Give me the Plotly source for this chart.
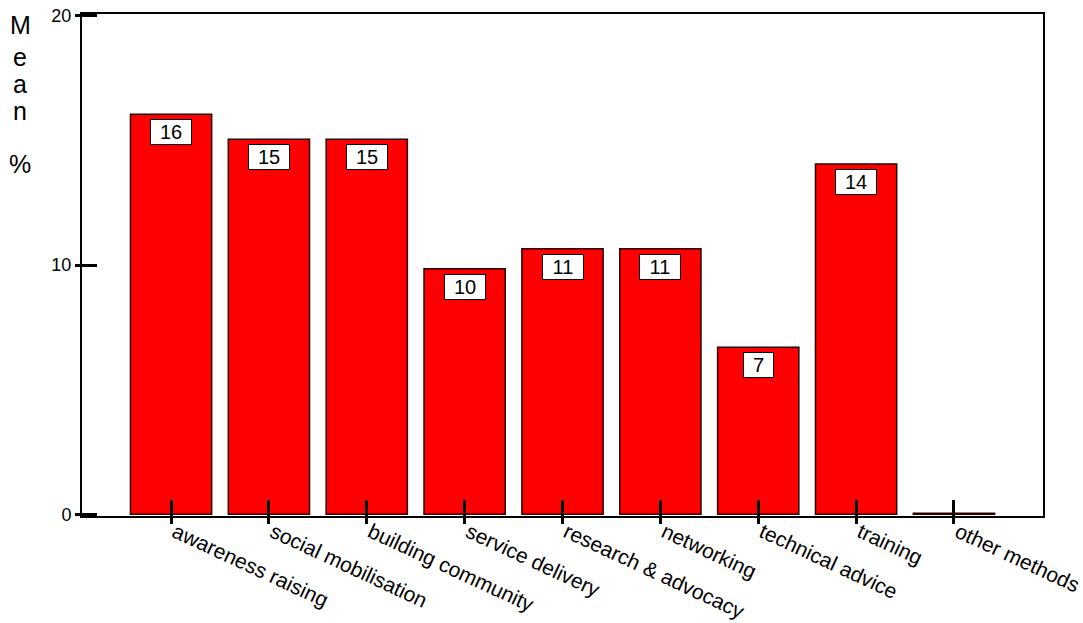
import plotly.graph_objects as go

categories = ["awareness raising", "social mobilisation", "building community",
              "service delivery", "research & advocacy", "networking",
              "technical advice", "training", "other methods"]
means = [16.05, 15.05, 15.05, 9.85, 10.65, 10.65, 6.7, 14.05, 0.04]
y_ticks = [0, 10, 20]
y_title_letters = ["M", "e", "a", "n", "%"]
y_title_pos = [0.978, 0.915, 0.860, 0.806, 0.701]

idx = list(range(len(categories)))
FONT = "Arial, Liberation Sans, sans-serif"

fig = go.Figure()
fig.add_trace(go.Bar(
    x=idx, y=means,
    marker=dict(color="#FF0000", line=dict(color="#2a0000", width=1.5)),
    width=0.83, hoverinfo="skip", xaxis="x", yaxis="y",
))
# invisible trace so the overlay axes are drawn
fig.add_trace(go.Scatter(x=idx, y=means, mode="markers", marker=dict(opacity=0),
                         hoverinfo="skip", xaxis="x2", yaxis="y2", showlegend=False))

xr = [-0.91, 8.91]
yr = [-0.07, 20.07]

for i, v in zip(idx, means):
    if v >= 0.5:
        lab = str(int(round(v)))
        fig.add_annotation(x=i, y=v, xref="x", yref="y", text=lab,
                           showarrow=False, yanchor="top", yshift=-5,
                           width=18 + 11 * len(lab), height=24,
                           bgcolor="white", bordercolor="black", borderwidth=1,
                           borderpad=0, font=dict(family=FONT, size=20, color="black"))

for letter, yp in zip(y_title_letters, y_title_pos):
    fig.add_annotation(x=-0.064, y=yp, xref="paper", yref="paper", text=letter,
                       showarrow=False, xanchor="center", yanchor="middle",
                       font=dict(family=FONT, size=25, color="black"))

fig.update_layout(
    width=1083, height=623, autosize=False,
    margin=dict(l=82, r=40, t=14, b=107, pad=0, autoexpand=False),
    paper_bgcolor="white", plot_bgcolor="white",
    showlegend=False,
    xaxis=dict(range=xr, tickvals=idx, showticklabels=False, automargin=False,
               ticks="inside", ticklen=16, tickwidth=3, tickcolor="black",
               showline=True, linecolor="black", linewidth=1.5, mirror=True,
               showgrid=False, zeroline=False),
    yaxis=dict(range=yr, tickvals=y_ticks, showticklabels=False, automargin=False,
               ticks="inside", ticklen=15, tickwidth=3, tickcolor="black",
               showline=True, linecolor="black", linewidth=1.5, mirror=True,
               showgrid=False, zeroline=False),
    xaxis2=dict(range=xr, overlaying="x", anchor="y", side="bottom", automargin=False,
                tickvals=idx, ticktext=categories, tickangle=25,
                ticklabeloverflow="allow", ticklabelshift=4, ticklabelstandoff=-12,
                ticks="outside", ticklen=7, tickwidth=3, tickcolor="black",
                tickfont=dict(family=FONT, size=21, color="black"),
                showline=False, showgrid=False, zeroline=False),
    yaxis2=dict(range=yr, overlaying="y", anchor="x", side="left", automargin=False,
                tickvals=y_ticks, ticks="outside", ticklen=6, tickwidth=3,
                tickcolor="black", tickfont=dict(family=FONT, size=18, color="black"),
                showline=False, showgrid=False, zeroline=False),
)

fig.write_html("out.html")
